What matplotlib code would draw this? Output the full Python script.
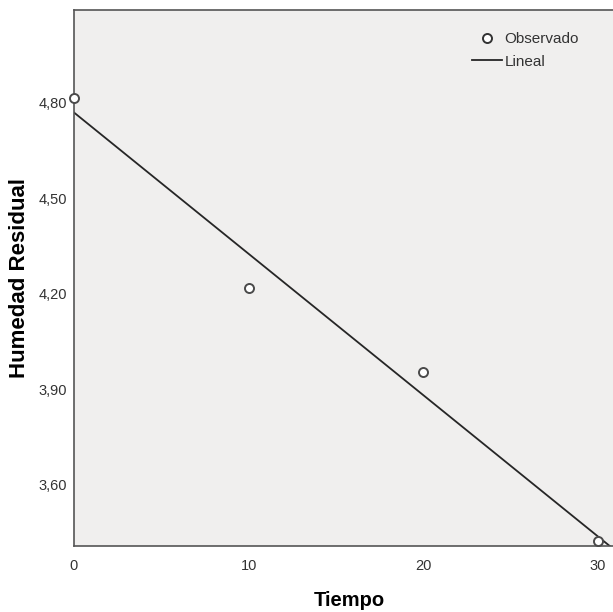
import numpy as np
import matplotlib
matplotlib.use("Agg")
import matplotlib.pyplot as plt
from matplotlib.lines import Line2D

plt.rcParams['font.family'] = ['Liberation Sans', 'DejaVu Sans']

# observed moisture vs time
tiempo = [0, 10, 20, 30]
humedad = [4.817, 4.218, 3.956, 3.424]
y_ticks = [3.60, 3.90, 4.20, 4.50, 4.80]
x_ticks = [0, 10, 20, 30]

# linear fit
pendiente, intercepto = np.polyfit(tiempo, humedad, 1)

W, H = 613, 612
fig = plt.figure(figsize=(W / 100, H / 100), dpi=100)
ax = fig.add_axes([74 / W, 1 - 546 / H, (625 - 74) / W, (546 - 10) / H])
ax.set_facecolor('#f0efee')

xs = np.array([0, 32])
ax.plot(xs, intercepto + pendiente * xs, color='#262626', lw=1.3, zorder=2)
ax.plot(tiempo, humedad, 'o', ms=6.5, mfc='white', mec='#4a4a4a', mew=1.4,
        clip_on=False, zorder=3)

ax.set_xlim(0, (625 - 74) / 17.47)
ax.set_ylim(3.408, 5.092)
ax.set_xticks(x_ticks)
ax.set_yticks(y_ticks)
ax.set_yticklabels([f"{v:.2f}".replace('.', ',') for v in y_ticks])
ax.tick_params(length=0, labelsize=10.5, colors='#333333', pad=5)
ax.tick_params(axis='x', pad=9)

for s in ['left', 'bottom', 'top']:
    ax.spines[s].set_color('#555555')
    ax.spines[s].set_linewidth(1.2)
ax.spines['right'].set_visible(False)

ax.set_xlabel('Tiempo', fontsize=14.5, fontweight='bold', labelpad=13)
ax.set_ylabel('Humedad Residual', fontsize=16, fontweight='bold', labelpad=6)

handles = [
    Line2D([], [], marker='o', ls='none', ms=6.5, mfc='white', mec='#333333', mew=1.4),
    Line2D([], [], color='#262626', lw=1.3),
]
ax.legend(handles, ['Observado', 'Lineal'], loc='upper left',
          bbox_to_anchor=((458 - 74) / (625 - 74), 0.984), frameon=False,
          fontsize=11, handlelength=2.0, handletextpad=0.15, labelspacing=0.55,
          labelcolor='#333333')

fig.savefig('out.png', dpi=100)
